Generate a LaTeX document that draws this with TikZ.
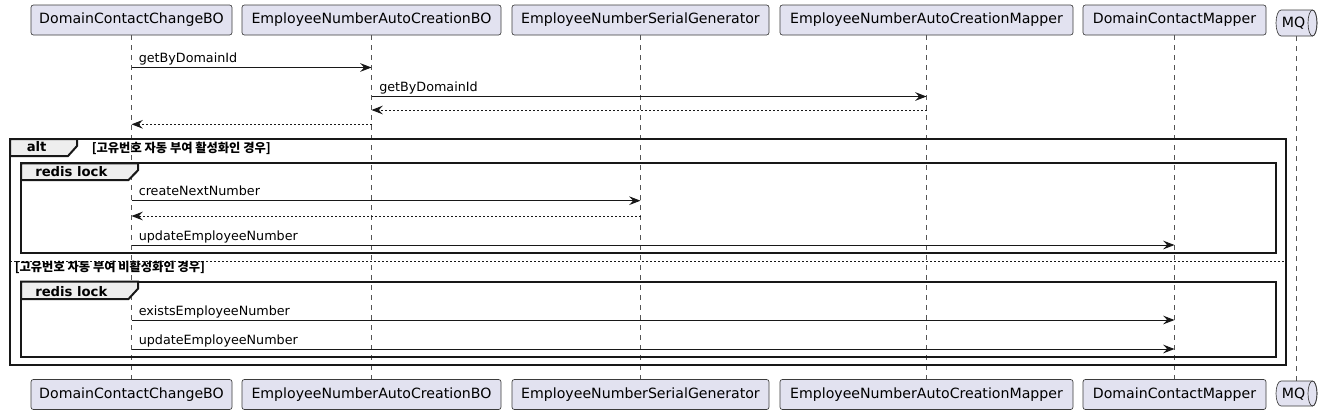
\documentclass[tikz,border=0pt]{standalone}
\usepackage{fontspec}
\setmainfont{DejaVu Sans}
\newfontfamily\krfont{Noto Sans CJK KR}
\usetikzlibrary{arrows.meta}
\definecolor{partfill}{HTML}{E2E2F0}
\definecolor{partline}{HTML}{181818}
\definecolor{tabfill}{HTML}{EEEEEE}
\definecolor{lifecol}{HTML}{555555}
\tikzset{
  part/.style={draw=partline!85, fill=partfill, line width=0.5pt, rounded corners=1.8pt,
    minimum height=22.5pt, inner sep=0pt, font=\fontsize{10.6pt}{12pt}\selectfont},
  life/.style={draw=lifecol, line width=0.45pt, dash pattern=on 3.75pt off 3.75pt},
  msg/.style={draw=partline, line width=0.75pt, -{Stealth[length=8.5pt,width=6.5pt,inset=3pt]}},
  ret/.style={msg, dash pattern=on 1.5pt off 1.5pt},
  lbl/.style={anchor=base west, inner sep=0pt, font=\fontsize{9.55pt}{11pt}\selectfont},
  frame/.style={draw=partline, line width=1.5pt},
  tab/.style={frame, fill=tabfill},
  tablbl/.style={anchor=base west, inner sep=0pt, font=\fontsize{9.9pt}{11pt}\selectfont\bfseries},
  guard/.style={anchor=base west, inner sep=0pt, font=\krfont\fontsize{9.2pt}{10pt}\selectfont\bfseries},
}
\begin{document}
\begin{tikzpicture}[x=0.75pt,y=-0.75pt]
\useasboundingbox (0,0) rectangle (1324,415);
% lifeline coordinates
\coordinate (t1) at (131.5,35); \coordinate (b1) at (131.5,380);
\coordinate (t2) at (371.5,35); \coordinate (b2) at (371.5,380);
\coordinate (t3) at (640.5,35); \coordinate (b3) at (640.5,380);
\coordinate (t4) at (926.5,35); \coordinate (b4) at (926.5,380);
\coordinate (t5) at (1174.5,35); \coordinate (b5) at (1174.5,380);
\coordinate (t6) at (1296,36); \coordinate (b6) at (1296,381);
\draw[life] (t1) -- (b1);
\draw[life] (t2) -- (b2);
\draw[life] (t3) -- (b3);
\draw[life] (t4) -- (b4);
\draw[life] (t5) -- (b5);
\draw[life] (t6) -- (b6);
% participants top
\node[part, minimum width=150.75pt] (p1) at (131.5,20) {DomainContactChangeBO};
\node[part, minimum width=194.25pt] (p2) at (371.5,20) {EmployeeNumberAutoCreationBO};
\node[part, minimum width=192.75pt] (p3) at (640.5,20) {EmployeeNumberSerialGenerator};
\node[part, minimum width=219.75pt] (p4) at (926.5,20) {EmployeeNumberAutoCreationMapper};
\node[part, minimum width=137.25pt] (p5) at (1174.5,20) {DomainContactMapper};
% participants bottom
\node[part, minimum width=150.75pt] (q1) at (131.5,394.5) {DomainContactChangeBO};
\node[part, minimum width=194.25pt] (q2) at (371.5,394.5) {EmployeeNumberAutoCreationBO};
\node[part, minimum width=192.75pt] (q3) at (640.5,394.5) {EmployeeNumberSerialGenerator};
\node[part, minimum width=219.75pt] (q4) at (926.5,394.5) {EmployeeNumberAutoCreationMapper};
\node[part, minimum width=137.25pt] (q5) at (1174.5,394.5) {DomainContactMapper};
% MQ queues
\draw[draw=partline!85, fill=partfill, line width=0.5pt]
  (1281,10) arc[start angle=270, end angle=90, x radius=5, y radius=13] -- (1312.5,36)
  arc[start angle=90, end angle=-90, x radius=4.5, y radius=13] -- cycle;
\draw[draw=partline!85, line width=0.5pt] (1312.5,23) ellipse[x radius=4.5, y radius=13];
\node[inner sep=0pt, font=\fontsize{10.6pt}{12pt}\selectfont] (mq1) at (1293.5,23.5) {MQ};
\draw[draw=partline!85, fill=partfill, line width=0.5pt]
  (1281,381) arc[start angle=270, end angle=90, x radius=5, y radius=12.5] -- (1312.5,406)
  arc[start angle=90, end angle=-90, x radius=4.5, y radius=12.5] -- cycle;
\draw[draw=partline!85, line width=0.5pt] (1312.5,393.5) ellipse[x radius=4.5, y radius=12.5];
\node[inner sep=0pt, font=\fontsize{10.6pt}{12pt}\selectfont] (mq2) at (1293.5,394) {MQ};
% rows
\coordinate (r1) at (0,67.5);
\coordinate (r2) at (0,96.5);
\coordinate (r3) at (0,110);
\coordinate (r4) at (0,124.3);
\coordinate (r5) at (0,200.7);
\coordinate (r6) at (0,216);
\coordinate (r7) at (0,245);
\coordinate (r8) at (0,320);
\coordinate (r9) at (0,349);
% messages
\draw[msg] (t1 |- r1) -- (t2 |- r1);
\node[lbl] (m1) at (138.5,62.5) {getByDomainId};
\draw[msg] (t2 |- r2) -- (t4 |- r2);
\node[lbl] (m2) at (379,91.5) {getByDomainId};
\draw[ret] (t4 |- r3) -- (t2 |- r3);
\draw[ret] (t2 |- r4) -- (t1 |- r4);
% alt frame
\draw[frame] (10,139) rectangle (1285.5,364.5);
\draw[tab] (10,139) -- (77,139) -- (77,146) -- (68,156) -- (10,156) -- cycle;
\node[tablbl] (alt) at (26.5,151.7) {alt};
\node[guard] (g1) at (91.5,152) {[고유번호 자동 부여 활성화인 경우]};
% redis lock 1
\draw[frame] (21,163.3) rectangle (1275.5,253.3);
\draw[tab] (21,163.3) -- (138,163.3) -- (138,170.3) -- (128.5,180) -- (21,180) -- cycle;
\node[tablbl] (rl1) at (35,176.7) {redis lock};
\draw[msg] (t1 |- r5) -- (t3 |- r5);
\node[lbl] (m3) at (138.5,195.7) {createNextNumber};
\draw[ret] (t3 |- r6) -- (t1 |- r6);
\draw[msg] (t1 |- r7) -- (t5 |- r7);
\node[lbl] (m4) at (138.5,240) {updateEmployeeNumber};
% separator
\draw[draw=partline, line width=0.75pt, dash pattern=on 1.5pt off 1.5pt] (10,261.7) -- (1285.5,261.7);
\node[guard] (g2) at (14.5,271.5) {[고유번호 자동 부여 비활성화인 경우]};
% redis lock 2
\draw[frame] (21,281.7) rectangle (1275.5,357.3);
\draw[tab] (21,281.7) -- (138,281.7) -- (138,288.7) -- (128.5,299) -- (21,299) -- cycle;
\node[tablbl] (rl2) at (35,296) {redis lock};
\draw[msg] (t1 |- r8) -- (t5 |- r8);
\node[lbl] (m5) at (138.5,315) {existsEmployeeNumber};
\draw[msg] (t1 |- r9) -- (t5 |- r9);
\node[lbl] (m6) at (138.5,344) {updateEmployeeNumber};
\end{tikzpicture}
\end{document}
